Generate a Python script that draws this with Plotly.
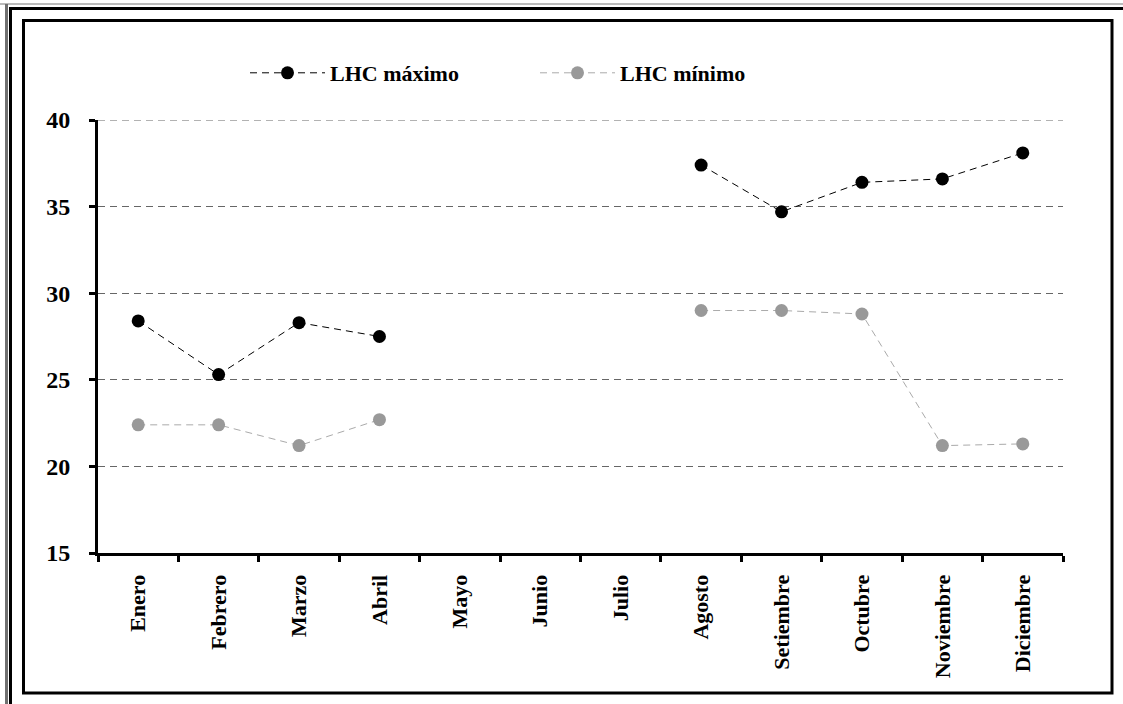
import plotly.graph_objects as go

# Monthly LHC values (max / min); no readings May–July
meses = ["Enero", "Febrero", "Marzo", "Abril", "Mayo", "Junio", "Julio",
         "Agosto", "Setiembre", "Octubre", "Noviembre", "Diciembre"]
lhc_max = [28.4, 25.3, 28.3, 27.5, None, None, None, 37.4, 34.7, 36.4, 36.6, 38.1]
lhc_min = [22.4, 22.4, 21.2, 22.7, None, None, None, 29.0, 29.0, 28.8, 21.2, 21.3]
y_ticks = [15, 20, 25, 30, 35, 40]

W, H = 1123, 704
L, R, T, B = 98, 60, 120, 151
pw, ph = W - L - R, H - T - B


def px(x):
    return (x - L) / pw


def py(y):
    return (H - B - y) / ph


serif = "Liberation Serif"
grid_color = "#666666"

fig = go.Figure()
fig.add_trace(go.Scatter(
    x=meses, y=lhc_max, name="LHC máximo", mode="lines+markers",
    line=dict(color="black", width=1, dash="7px,5px"),
    marker=dict(color="black", size=13),
))
fig.add_trace(go.Scatter(
    x=meses, y=lhc_min, name="LHC mínimo", mode="lines+markers",
    line=dict(color="#aaaaaa", width=1, dash="7px,5px"),
    marker=dict(color="#999999", size=13),
))

# page frame lines
frame = [
    dict(x0=0, x1=W, y0=4, y1=4, color="#bbbbbb", width=2),
    dict(x0=9, x1=W, y0=8.5, y1=8.5, color="black", width=3),
    dict(x0=6.5, x1=6.5, y0=4, y1=H, color="#707070", width=3),
    dict(x0=10.5, x1=10.5, y0=7, y1=H, color="black", width=3),
]
shapes = []
for f in frame:
    shapes.append(dict(type="line", xref="paper", yref="paper",
                       x0=px(f["x0"]), x1=px(f["x1"]), y0=py(f["y0"]), y1=py(f["y1"]),
                       line=dict(color=f["color"], width=f["width"])))
shapes.append(dict(type="rect", xref="paper", yref="paper",
                   x0=px(23.5), x1=px(1112), y0=py(20.5), y1=py(693),
                   line=dict(color="black", width=3)))
# gridline on the top edge of the value range
shapes.append(dict(type="line", xref="paper", yref="y", layer="below",
                   x0=0, x1=1, y0=y_ticks[-1], y1=y_ticks[-1],
                   line=dict(color=grid_color, width=1, dash="7px,5px")))

fig.update_layout(
    width=W, height=H, autosize=False,
    margin=dict(l=L, r=R, t=T, b=B),
    paper_bgcolor="white", plot_bgcolor="white",
    shapes=shapes,
    showlegend=True,
    legend=dict(
        orientation="h", x=px(245), y=py(73), xanchor="left", yanchor="middle",
        font=dict(family=serif, size=22, color="black", weight="bold"),
        bgcolor="rgba(0,0,0,0)", itemwidth=75, entrywidth=200,
        entrywidthmode="pixels",
    ),
    xaxis=dict(
        type="category", range=[-0.5, 11.5], tickson="boundaries",
        showline=True, linecolor="black", linewidth=3,
        ticks="outside", ticklen=6, tickwidth=3, tickcolor="black",
        tickangle=-90, ticklabelstandoff=10,
        tickfont=dict(family=serif, size=22, color="black", weight="bold"),
        showgrid=False, zeroline=False,
    ),
    yaxis=dict(
        range=[15, 40], tickvals=y_ticks,
        showline=True, linecolor="black", linewidth=3,
        ticks="outside", ticklen=6, tickwidth=3, tickcolor="black",
        ticklabelstandoff=14,
        tickfont=dict(family=serif, size=24, color="black", weight="bold"),
        showgrid=True, gridcolor=grid_color, gridwidth=1, griddash="7px,5px",
        zeroline=False,
    ),
)

fig.write_html("out.html")
